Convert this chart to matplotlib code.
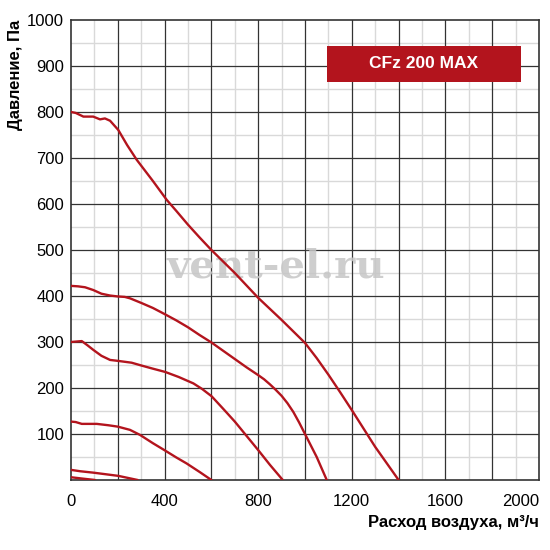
import matplotlib
matplotlib.use("Agg")
import matplotlib.pyplot as plt
from matplotlib.patches import Rectangle

plt.rcParams['font.family'] = ['Liberation Sans', 'DejaVu Sans']

# ---------------- data ----------------
x1 = [0, 20, 53, 95, 124, 145, 167, 202, 240, 281, 350, 409, 450, 500, 550, 600, 650, 700, 750,
      800, 850, 900, 950, 1000, 1050, 1100, 1150, 1200, 1250, 1300, 1350, 1400]
y1 = [800, 798, 790, 790, 784, 786, 781, 761, 728, 696, 650, 609, 585, 555, 527, 500, 475, 450, 423,
      396, 372, 348, 323, 298, 265, 229, 191, 152, 112, 72, 36, 0]

x2 = [0, 30, 60, 95, 130, 167, 200, 230, 252, 300, 350, 399, 450, 500, 550, 600, 650, 700, 750,
      800, 825, 850, 875, 900, 925, 950, 975, 1000, 1050, 1093]
y2 = [422, 421, 419, 413, 405, 401, 399, 398, 395, 385, 374, 361, 347, 332, 315, 299, 281, 263, 245,
      228, 219, 208, 196, 183, 167, 148, 125, 100, 50, 0]

x3 = [0, 46, 70, 95, 130, 167, 200, 259, 300, 350, 402, 460, 523, 560, 601, 650, 700, 750, 800, 850, 905]
y3 = [300, 302, 293, 283, 270, 261, 259, 255, 249, 242, 235, 224, 210, 198, 182, 155, 127, 96, 65, 33, 0]

x4 = [0, 20, 46, 110, 160, 200, 252, 295, 350, 399, 450, 494, 551, 600]
y4 = [127, 126, 122, 122, 119, 116, 109, 98, 80, 65, 49, 36, 17, 0]

x5 = [0, 40, 95, 202, 285]
y5 = [22, 19, 16, 9, 0]

x6 = [0, 50, 103]
y6 = [6, 3, 0]

curves = [(x1, y1), (x2, y2), (x3, y3), (x4, y4), (x5, y5), (x6, y6)]

xticks = [0, 400, 800, 1200, 1600, 2000]
yticks = [100, 200, 300, 400, 500, 600, 700, 800, 900, 1000]

red = '#b3141d'
dark = '#333333'
light = '#d9d9d9'

fig = plt.figure(figsize=(5.5, 5.5), dpi=100)
ax = fig.add_axes([71/550, 1-480/550, 468/550, 460/550])

ax.set_xlim(0, 2000)
ax.set_ylim(0, 1000)

# grid: light minor lines, dark major lines
for v in range(100, 2000, 200):
    ax.axvline(v, color=light, lw=1, zorder=1)
for v in range(50, 1000, 100):
    ax.axhline(v, color=light, lw=1, zorder=1)
for v in range(200, 2000, 200):
    ax.axvline(v, color=dark, lw=0.9, zorder=2)
for v in range(100, 1000, 100):
    ax.axhline(v, color=dark, lw=0.9, zorder=2)

for s in ax.spines.values():
    s.set_color(dark)
    s.set_linewidth(1.2)

# watermark
ax.text((276 - 71)/468, 1-(267-20)/460, 'vent-el.ru', transform=ax.transAxes,
        family='DejaVu Serif', fontweight='bold', fontsize=29, color='#c6c6c6', alpha=0.85,
        ha='center', va='center', zorder=3)

for cx, cy in curves:
    ax.plot(cx, cy, color=red, lw=1.7, zorder=4, solid_joinstyle='round', solid_capstyle='round')

ax.set_xticks(xticks)
ax.set_yticks(yticks)
ax.tick_params(axis='both', length=0, labelsize=12, colors='black')
ax.tick_params(axis='x', pad=10)
ax.tick_params(axis='y', pad=5)
ax.get_xticklabels()[-1].set_horizontalalignment('right')

fig.text(16/550, 1-20/550, 'Давление, Па', rotation=90, ha='center', va='top',
         fontsize=12, fontweight='bold')
fig.text(539/550, 1-522/550, 'Расход воздуха, м³/ч', ha='right', va='center',
         fontsize=12, fontweight='bold')

# model label box
fig.patches.append(Rectangle((327/550, 1-82/550), 194/550, 36/550,
                             transform=fig.transFigure, facecolor=red,
                             edgecolor='none', zorder=5))
fig.text(424/550, 1-64/550, 'CFz 200 MAX', ha='center', va='center',
         color='white', fontsize=12.5, fontweight='bold', zorder=6)

fig.savefig('out.png', dpi=100)
